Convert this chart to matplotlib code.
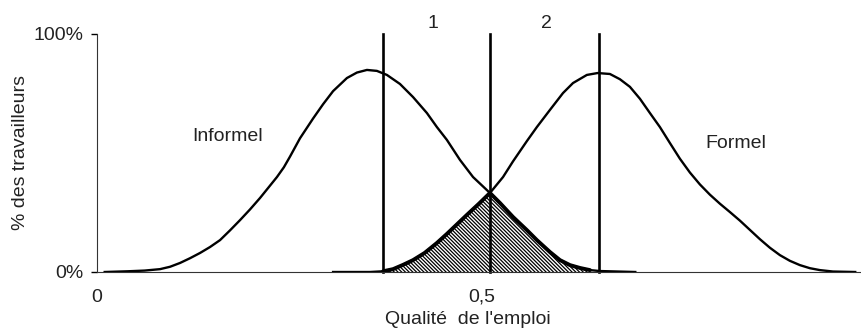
import numpy as np
import matplotlib.pyplot as plt

plt.rcParams['font.family'] = ['Liberation Sans', 'DejaVu Sans']
plt.rcParams['hatch.linewidth'] = 0.9

# courbe "Informel" : qualité de l'emploi -> part des travailleurs (0-1)
inf_x = [0.010, 0.040, 0.062, 0.082, 0.095, 0.108, 0.121, 0.134, 0.147, 0.160,
         0.173, 0.186, 0.199, 0.212, 0.223, 0.234, 0.243, 0.251, 0.264, 0.281,
         0.294, 0.307, 0.325, 0.338, 0.351, 0.364, 0.377, 0.394, 0.411, 0.429,
         0.442, 0.455, 0.472, 0.489, 0.511, 0.524, 0.541, 0.559, 0.572, 0.589,
         0.602, 0.615, 0.628, 0.641, 0.654, 0.700]
inf_y = [0.000, 0.003, 0.006, 0.012, 0.022, 0.038, 0.058, 0.080, 0.105, 0.134,
         0.175, 0.218, 0.263, 0.311, 0.355, 0.399, 0.440, 0.485, 0.562, 0.645,
         0.705, 0.760, 0.815, 0.838, 0.849, 0.845, 0.828, 0.790, 0.735, 0.668,
         0.609, 0.555, 0.471, 0.399, 0.332, 0.290, 0.231, 0.176, 0.134, 0.084,
         0.050, 0.029, 0.017, 0.008, 0.004, 0.000]

# courbe "Formel"
form_x = [0.307, 0.355, 0.372, 0.385, 0.398, 0.411, 0.426, 0.442, 0.455, 0.468,
          0.481, 0.496, 0.511, 0.528, 0.541, 0.559, 0.572, 0.589, 0.606, 0.619,
          0.637, 0.651, 0.667, 0.680, 0.693, 0.706, 0.719, 0.732, 0.745, 0.758,
          0.771, 0.784, 0.797, 0.810, 0.823, 0.836, 0.849, 0.862, 0.875, 0.888,
          0.901, 0.914, 0.927, 0.940, 0.957, 0.986]
form_y = [0.000, 0.000, 0.003, 0.012, 0.030, 0.050, 0.080, 0.122, 0.160, 0.200,
          0.240, 0.285, 0.332, 0.399, 0.465, 0.550, 0.609, 0.681, 0.752, 0.794,
          0.828, 0.836, 0.832, 0.810, 0.778, 0.728, 0.668, 0.609, 0.542, 0.476,
          0.418, 0.368, 0.325, 0.287, 0.252, 0.216, 0.177, 0.138, 0.102, 0.071,
          0.047, 0.029, 0.016, 0.008, 0.002, 0.000]

seuils = [0.372, 0.511, 0.653]          # lignes verticales
etiquettes_zones = ['1', '2']
x_zones = [0.437, 0.585]

ix, iy = np.array(inf_x), np.array(inf_y)
fx, fy = np.array(form_x), np.array(form_y)

fig = plt.figure(figsize=(8.61, 3.31), dpi=100)
ax = fig.add_axes([97/861, 59/331, 769/861, 238/331])

# zone de chevauchement hachurée : formel à gauche du seuil 2, informel à droite
mf = (fx >= seuils[0]) & (fx <= seuils[1])
mi = (ix >= seuils[1]) & (ix <= seuils[2])
for xx, yy in [(fx[mf], fy[mf]), (ix[mi], iy[mi])]:
    ax.fill_between(xx, 0, yy, facecolor='white', edgecolor='black',
                    hatch='\\' * 9, linewidth=0)
    ax.plot(xx, yy, color='black', lw=2.8, solid_capstyle='round')

ax.plot(ix, iy, color='black', lw=1.7, solid_joinstyle='round')
ax.plot(fx, fy, color='black', lw=1.7, solid_joinstyle='round')

for s in seuils:
    ax.plot([s, s], [0, 1], color='black', lw=1.9, clip_on=False)

fs = 14
txt = '#222222'
for lab, xz in zip(etiquettes_zones, x_zones):
    ax.text(xz, 1.046, lab, ha='center', va='center', fontsize=fs, color=txt)

ax.text(0.170, 0.571, 'Informel', ha='center', va='center', fontsize=fs, color=txt)
ax.text(0.831, 0.542, 'Formel', ha='center', va='center', fontsize=fs, color=txt)

ax.set_xlim(0, 1)
ax.set_ylim(0, 1)
ax.set_xticks([0, 0.5, 1])
ax.set_xticklabels(['0', '0,5', '1'])
ax.set_yticks([0, 1])
ax.set_yticklabels(['0%', '100%'])
ax.tick_params(axis='x', length=0, pad=12, labelsize=fs, labelcolor=txt)
ax.tick_params(axis='y', length=4, width=1, pad=6, labelsize=fs, labelcolor=txt)
ax.spines['top'].set_visible(False)
ax.spines['right'].set_visible(False)
ax.spines['left'].set_color('#333333')
ax.spines['bottom'].set_color('#333333')
ax.set_xlabel("Qualité  de l'emploi", fontsize=fs, color=txt)
ax.xaxis.set_label_coords(0.482, -0.165)
ax.set_ylabel('% des travailleurs', fontsize=fs, color=txt)
ax.yaxis.set_label_coords(-0.088, 0.5)
for t in ax.get_xticklabels():
    t.set_clip_on(False)

fig.savefig('out.png', dpi=100)
